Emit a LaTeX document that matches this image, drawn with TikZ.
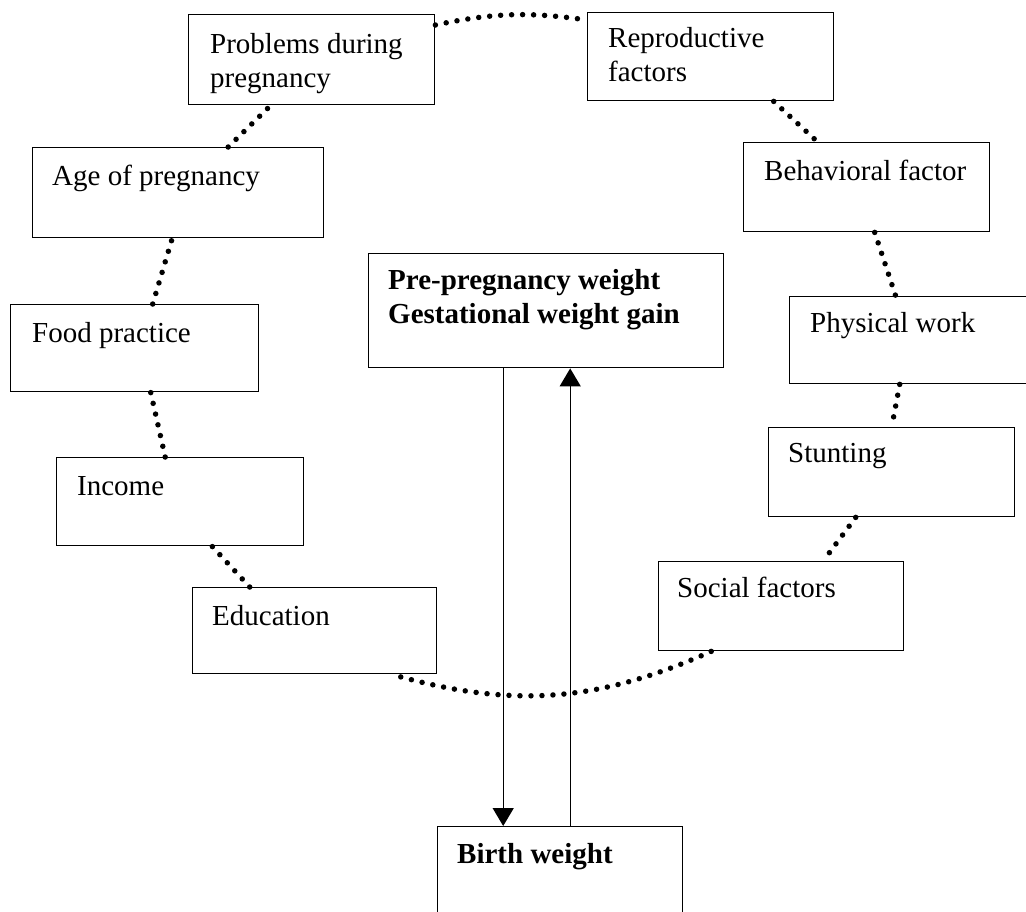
\documentclass[tikz,border=0pt]{standalone}
\usepackage{fontspec}
\setmainfont{Liberation Serif}
\usepackage{tikz}
\usetikzlibrary{positioning}
\usetikzlibrary{arrows.meta}
\tikzset{%
  mybox/.style={draw, line width=1.4pt, anchor=north west, inner sep=0pt},
  mytext/.style={inner sep=0pt, align=left, font=\fontsize{29}{34}\selectfont},
  mybold/.style={inner sep=0pt, align=left, font=\fontsize{29}{34}\selectfont\bfseries},
  myring/.style={line width=5.5pt, line cap=round, dash pattern=on 0pt off 11pt},
  myarrow/.style={->, >={Triangle[width=21pt,length=18pt]}, line width=1.4pt}
}
\begin{document}
\begin{tikzpicture}[x=1pt, y=-1pt]
  \useasboundingbox (0,0) rectangle (1026,911);
  \node[mybox, minimum width=246pt, minimum height=90pt] (prob) at (188,14) {};
  \node[mybox, minimum width=246pt, minimum height=88pt] (repro) at (587,12) {};
  \node[mybox, minimum width=291pt, minimum height=90pt] (age) at (32,147) {};
  \node[mybox, minimum width=246pt, minimum height=89pt] (behav) at (743,142) {};
  \node[mybox, minimum width=355pt, minimum height=114pt] (prepreg) at (368,253) {};
  \node[mybox, minimum width=248pt, minimum height=87pt] (food) at (10,304) {};
  \node[mybox, minimum width=260pt, minimum height=87pt] (phys) at (789,296) {};
  \node[mybox, minimum width=246pt, minimum height=89pt] (stunt) at (768,427) {};
  \node[mybox, minimum width=247pt, minimum height=88pt] (income) at (56,457) {};
  \node[mybox, minimum width=245pt, minimum height=89pt] (social) at (658,561) {};
  \node[mybox, minimum width=244pt, minimum height=86pt] (edu) at (192,587) {};
  \node[mybox, minimum width=245pt, minimum height=95pt] (birth) at (437,826) {};

  \node[mytext, below right=19pt and 22pt of prob.north west] (probtext) {Problems during\\pregnancy};
  \node[mytext, below right=15pt and 21pt of repro.north west] (reprotext) {Reproductive\\factors};
  \node[mytext, below right=18pt and 20pt of age.north west] (agetext) {Age of pregnancy};
  \node[mytext, below right=18pt and 21pt of behav.north west] (behavtext) {Behavioral factor};
  \node[mybold, below right=16pt and 20pt of prepreg.north west] (prepregtext) {Pre-pregnancy weight\\Gestational weight gain};
  \node[mytext, below right=18pt and 22pt of food.north west] (foodtext) {Food practice};
  \node[mytext, below right=16pt and 21pt of phys.north west] (phystext) {Physical work};
  \node[mytext, below right=16pt and 20pt of stunt.north west] (stunttext) {Stunting};
  \node[mytext, below right=19pt and 21pt of income.north west] (incometext) {Income};
  \node[mytext, below right=16pt and 19pt of social.north west] (socialtext) {Social factors};
  \node[mytext, below right=18pt and 20pt of edu.north west] (edutext) {Education};
  \node[mybold, below right=17pt and 20pt of birth.north west] (birthtext) {Birth weight};

  \draw[myring] ([yshift=-11pt]prob.north east) to[bend left=10] ([yshift=-8pt]repro.north west);
  \draw[myring] ([xshift=63pt]repro.south) -- ([xshift=-49pt]behav.north);
  \draw[myring] ([xshift=8pt]behav.south) -- ([xshift=-24pt]phys.north);
  \draw[myring] ([xshift=-20pt]phys.south) -- (stunt.north);
  \draw[myring] ([xshift=-36pt]stunt.south) -- ([xshift=42pt]social.north);
  \draw[myring] ([xshift=-70pt]social.south) to[bend left=20] ([xshift=77pt]edu.south);
  \draw[myring] ([xshift=-65pt]edu.north) -- ([xshift=32pt]income.south);
  \draw[myring] ([xshift=-15pt]income.north) -- ([xshift=16pt]food.south);
  \draw[myring] ([xshift=18pt]food.north) -- ([xshift=-6pt]age.south);
  \draw[myring] ([xshift=50pt]age.north) -- ([xshift=-41pt]prob.south);

  \draw[myarrow] ([xshift=-43pt]prepreg.south) -- ([xshift=-43pt]prepreg.south |- birth.north);
  \draw[myarrow] ([xshift=10pt]birth.north) -- ([xshift=10pt]birth.north |- prepreg.south);
\end{tikzpicture}
\end{document}
